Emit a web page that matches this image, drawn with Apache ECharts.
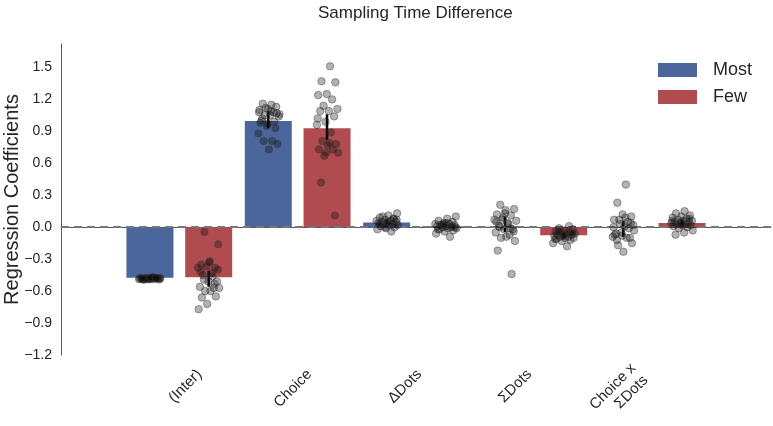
<!DOCTYPE html>
<html>
<head>
<meta charset="utf-8">
<script src="https://cdn.jsdelivr.net/npm/echarts@6/dist/echarts.min.js"></script>
<style>html,body{margin:0;padding:0;background:#fff;}#c{width:773px;height:426px;}</style>
</head>
<body>
<div id="c"></div>
<script>
const categories = ['(Inter)', 'Choice', 'ΔDots', 'ΣDots', 'Choice x\nΣDots'];
const seriesNames = ['Most', 'Few'];
const mostMeans = [-0.475, 0.997, 0.045, 0.005, -0.002];
const fewMeans = [-0.47, 0.93, 0.01, -0.075, 0.04];
const mostLow = [-0.50, 0.93, 0.02, -0.045, -0.09];
const mostHigh = [-0.455, 1.09, 0.07, 0.10, 0.06];
const fewLow = [-0.56, 0.82, -0.01, -0.10, 0.0];
const fewHigh = [-0.41, 1.06, 0.03, -0.05, 0.08];

const interMost = [-0.475,-0.48,-0.485,-0.49,-0.478,-0.482,-0.488,-0.47,-0.492,-0.48,-0.484,-0.476,-0.486,-0.481,-0.479,-0.483,-0.487,-0.477,-0.489,-0.48,-0.474,-0.485,-0.491,-0.472,-0.483,-0.478];
const interFew = [-0.045,-0.16,-0.32,-0.35,-0.38,-0.37,-0.38,-0.43,-0.45,-0.51,-0.51,-0.56,-0.57,-0.60,-0.57,-0.60,-0.66,-0.65,-0.72,-0.77,-0.46,-0.49,-0.40,-0.33,-0.42,-0.53];
const choiceMost = [1.15,1.16,1.07,1.11,1.10,1.08,1.05,1.04,1.05,1.00,0.93,0.95,0.88,0.81,0.81,0.78,0.73,0.98,0.99,1.12,1.06,1.09,1.02,1.13,0.97,1.08];
const choiceFew = [1.51,1.37,1.36,1.25,1.24,1.20,1.14,1.11,1.09,1.09,1.04,0.99,0.96,0.89,0.81,0.78,0.77,0.73,0.73,0.67,0.70,0.79,0.42,0.11,0.70,1.02];
const dDotsMost = [0.13,0.11,0.09,0.08,0.07,0.06,0.06,0.05,0.05,0.04,0.04,0.03,0.03,0.02,0.02,0.01,0.0,-0.01,-0.02,-0.04,0.10,0.07,0.05,0.03,0.08,0.0];
const dDotsFew = [0.10,0.08,0.06,0.05,0.04,0.03,0.03,0.02,0.02,0.01,0.01,0.0,0.0,-0.01,-0.01,-0.02,-0.03,-0.04,-0.06,-0.09,0.02,0.0,0.04,-0.02,0.01,0.03];
const sDotsMost = [0.21,0.17,0.16,0.12,0.11,0.07,0.06,0.04,0.01,-0.02,-0.02,-0.05,-0.07,-0.10,-0.13,-0.09,-0.22,-0.44,0.09,0.07,0.03,0.0,-0.04,0.13,0.05,-0.01];
const sDotsFew = [-0.01,-0.02,-0.03,-0.04,-0.05,-0.05,-0.06,-0.06,-0.07,-0.07,-0.08,-0.08,-0.09,-0.09,-0.10,-0.10,-0.11,-0.12,-0.13,-0.15,-0.18,-0.04,-0.06,-0.08,-0.11,0.01];
const cxsMost = [0.40,0.23,0.10,0.12,0.07,0.05,0.07,0.02,0.01,-0.06,-0.10,-0.05,-0.09,-0.10,-0.17,-0.15,-0.23,-0.07,-0.01,0.03,-0.03,0.09,-0.12,0.04,-0.08,0.0];
const cxsFew = [0.15,0.13,0.11,0.10,0.09,0.08,0.07,0.06,0.06,0.05,0.05,0.04,0.04,0.03,0.03,0.02,0.02,0.01,0.0,-0.01,-0.03,-0.05,-0.07,0.08,0.04,0.06];

const mostDots = [interMost, choiceMost, dDotsMost, sDotsMost, cxsMost];
const fewDots = [interFew, choiceFew, dDotsFew, sDotsFew, cxsFew];

const colors = ['#4b669b', '#b04c50'];
const hueOffset = 0.248;
const jitterWidth = 0.19;
function jitter(i) { return (((i * 0.6180339887 + 0.31) % 1) - 0.5) * jitterWidth; }

function dotData(groups, sign) {
  const out = [];
  groups.forEach((vals, g) => {
    vals.forEach((v, i) => out.push([g + 1 + sign * hueOffset + jitter(i + g * 7), v]));
  });
  return out;
}
const errData = [];
categories.forEach((c, g) => {
  errData.push([g + 1 - hueOffset, mostLow[g], mostHigh[g]]);
  errData.push([g + 1 + hueOffset, fewLow[g], fewHigh[g]]);
});

const font = 'Liberation Sans, Arial, sans-serif';
const chart = echarts.init(document.getElementById('c'));
chart.setOption({
  animation: false,
  backgroundColor: '#fff',
  textStyle: { fontFamily: font },
  title: {
    text: 'Sampling Time Difference', left: 313, top: 0,
    textStyle: { fontSize: 17, fontWeight: 'normal', color: '#262626', fontFamily: font }
  },
  legend: {
    data: seriesNames, orient: 'vertical', left: 653, top: 56,
    itemWidth: 39, itemHeight: 14, itemGap: 9, icon: 'rect',
    textStyle: { fontSize: 18, color: '#262626', padding: [0, 0, 0, 11], fontFamily: font }
  },
  grid: [
    { left: 61, right: 2, top: 44, bottom: 71, containLabel: false, outerBoundsMode: 'none' },
    { left: 144.5, right: 78.5, top: 44, bottom: 71, containLabel: false, outerBoundsMode: 'none' }
  ],
  xAxis: [
    { type: 'category', gridIndex: 0, data: [' '].concat(categories).concat(['  ']), boundaryGap: false,
      axisLine: { lineStyle: { color: '#555', width: 1 } }, axisTick: { show: false },
      axisLabel: { show: false }, splitLine: { show: false } },
    { type: 'value', gridIndex: 0, min: 0, max: 6, show: false },
    { type: 'category', gridIndex: 1, data: categories, boundaryGap: true,
      axisLine: { show: false }, axisTick: { show: false }, splitLine: { show: false },
      axisLabel: { rotate: 45, interval: 0, margin: 17, fontSize: 15, lineHeight: 17, color: '#262626', fontFamily: font } }
  ],
  yAxis: [
    { type: 'value', gridIndex: 0, min: -1.2, max: 1.72, interval: 0.3,
      name: 'Regression Coefficients', nameLocation: 'middle', nameGap: 39, nameMoveOverlap: false,
      nameTextStyle: { fontSize: 20, color: '#262626', fontFamily: font },
      axisLine: { show: true, lineStyle: { color: '#555', width: 1 } }, axisTick: { show: false },
      splitLine: { show: false },
      axisLabel: { showMaxLabel: false, fontSize: 14, margin: 9, color: '#262626', fontFamily: font,
        formatter: v => { const s = (Math.round(v * 10) / 10).toFixed(1); return s === '-0.0' ? '0.0' : s.replace('-', '\u2212'); } } },
    { type: 'value', gridIndex: 1, show: false }
  ],
  series: [
    { type: 'bar', name: 'Most', xAxisIndex: 0, yAxisIndex: 0, barWidth: 47, barGap: '25%', z: 2,
      itemStyle: { color: colors[0] }, data: ['-'].concat(mostMeans).concat(['-']) },
    { type: 'bar', name: 'Few', xAxisIndex: 0, yAxisIndex: 0, barWidth: 47, barGap: '25%', z: 2,
      itemStyle: { color: colors[1] }, data: ['-'].concat(fewMeans).concat(['-']) },
    { type: 'custom', name: 'err', xAxisIndex: 1, yAxisIndex: 0, z: 4, silent: true,
      encode: { x: 0, y: [1, 2] },
      renderItem: (params, api) => {
        const a = api.coord([api.value(0), api.value(1)]);
        const b = api.coord([api.value(0), api.value(2)]);
        return { type: 'line', shape: { x1: a[0], y1: a[1], x2: b[0], y2: b[1] }, style: { stroke: '#000', lineWidth: 2.5 } };
      },
      data: errData,
      markLine: { silent: true, symbol: 'none', label: { show: false },
        lineStyle: { color: '#777', type: [8, 5], width: 2 }, data: [{ yAxis: 0 }] } },
    { type: 'scatter', name: 'dotsMost', xAxisIndex: 1, yAxisIndex: 0, z: 5, symbolSize: 7.5,
      itemStyle: { color: 'rgba(0,0,0,0.3)', borderColor: 'rgba(60,60,60,0.45)', borderWidth: 1, opacity: 1 },
      data: dotData(mostDots, -1) },
    { type: 'scatter', name: 'dotsFew', xAxisIndex: 1, yAxisIndex: 0, z: 5, symbolSize: 7.5,
      itemStyle: { color: 'rgba(0,0,0,0.3)', borderColor: 'rgba(60,60,60,0.45)', borderWidth: 1, opacity: 1 },
      data: dotData(fewDots, 1) }
  ]
});
</script>
</body>
</html>
